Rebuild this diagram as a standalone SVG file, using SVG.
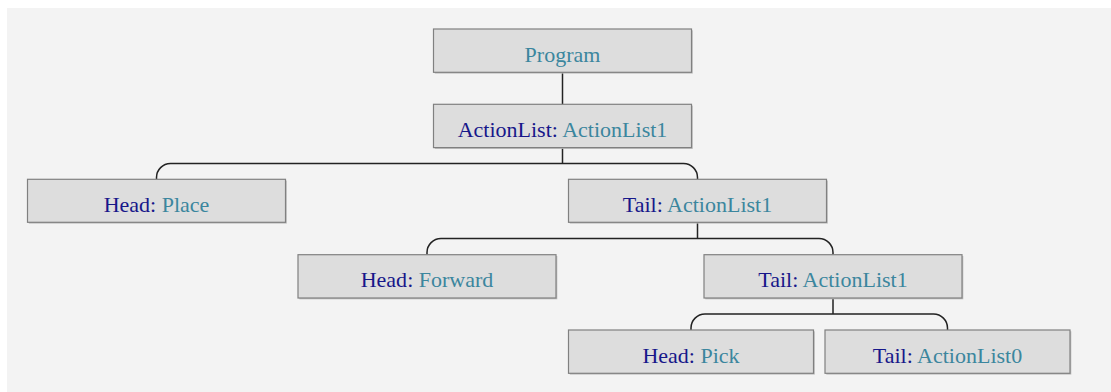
<svg xmlns="http://www.w3.org/2000/svg" width="1111" height="392" viewBox="0 0 1111 392">
<style>
.box{fill:#dddddd;stroke:#808080;stroke-width:1.2}
.sh{fill:#bdbdbd}
.t{font-family:"Liberation Serif","Times New Roman",serif;font-size:22px;text-anchor:middle}
.k{fill:#17178a}
.v{fill:#3b869e}
.c{fill:none;stroke:#222;stroke-width:1.5}
</style>
<rect x="0" y="0" width="1111" height="392" fill="#ffffff"/>
<rect x="7" y="8" width="1104" height="384" fill="#f3f3f3"/>
<g id="connectors">
<path class="c" d="M562.5 72.3 V104.3"/>
<path class="c" d="M562.5 147.7 V163.5 M156.5 179.3 V177.5 A14 14 0 0 1 170.5 163.5 H683.5 A14 14 0 0 1 697.5 177.5 V179.3"/>
<path class="c" d="M697.5 222.3 V238.5 M427 254.7 V252.5 A14 14 0 0 1 441 238.5 H819 A14 14 0 0 1 833 252.5 V254.7"/>
<path class="c" d="M833 298 V314 M691 330 V328 A14 14 0 0 1 705 314 H933.5 A14 14 0 0 1 947.5 328 V330"/>
</g>
<g id="n-program">
<rect class="sh" x="434.8" y="30.3" width="258" height="43.3"/>
<rect class="box" x="433.5" y="29" width="258" height="43.3"/>
<text class="t" x="562.5" y="61.7"><tspan class="v">Program</tspan></text>
</g>
<g id="n-actionlist">
<rect class="sh" x="434.8" y="105.6" width="258" height="43.3"/>
<rect class="box" x="433.5" y="104.3" width="258" height="43.3"/>
<text class="t" x="562.5" y="137"><tspan class="k">ActionList</tspan><tspan class="k">:</tspan> <tspan class="v">ActionList1</tspan></text>
</g>
<g id="n-head-place">
<rect class="sh" x="28.8" y="180.6" width="258" height="43"/>
<rect class="box" x="27.5" y="179.3" width="258" height="43"/>
<text class="t" x="156.5" y="211.8"><tspan class="k">Head</tspan><tspan class="k">:</tspan> <tspan class="v">Place</tspan></text>
</g>
<g id="n-tail-1">
<rect class="sh" x="569.8" y="180.6" width="258" height="43"/>
<rect class="box" x="568.5" y="179.3" width="258" height="43"/>
<text class="t" x="697.5" y="211.8"><tspan class="k">Tail</tspan><tspan class="k">:</tspan> <tspan class="v">ActionList1</tspan></text>
</g>
<g id="n-head-forward">
<rect class="sh" x="299.3" y="256" width="258" height="43.3"/>
<rect class="box" x="298" y="254.7" width="258" height="43.3"/>
<text class="t" x="427" y="287.2"><tspan class="k">Head</tspan><tspan class="k">:</tspan> <tspan class="v">Forward</tspan></text>
</g>
<g id="n-tail-2">
<rect class="sh" x="705.3" y="256" width="258" height="43.3"/>
<rect class="box" x="704" y="254.7" width="258" height="43.3"/>
<text class="t" x="833" y="287.2"><tspan class="k">Tail</tspan><tspan class="k">:</tspan> <tspan class="v">ActionList1</tspan></text>
</g>
<g id="n-head-pick">
<rect class="sh" x="569.8" y="331.3" width="245" height="43.3"/>
<rect class="box" x="568.5" y="330" width="245" height="43.3"/>
<text class="t" x="691" y="362.5"><tspan class="k">Head</tspan><tspan class="k">:</tspan> <tspan class="v">Pick</tspan></text>
</g>
<g id="n-tail-0">
<rect class="sh" x="826.3" y="331.3" width="245" height="43.3"/>
<rect class="box" x="825" y="330" width="245" height="43.3"/>
<text class="t" x="947.5" y="362.5"><tspan class="k">Tail</tspan><tspan class="k">:</tspan> <tspan class="v">ActionList0</tspan></text>
</g>
</svg>
